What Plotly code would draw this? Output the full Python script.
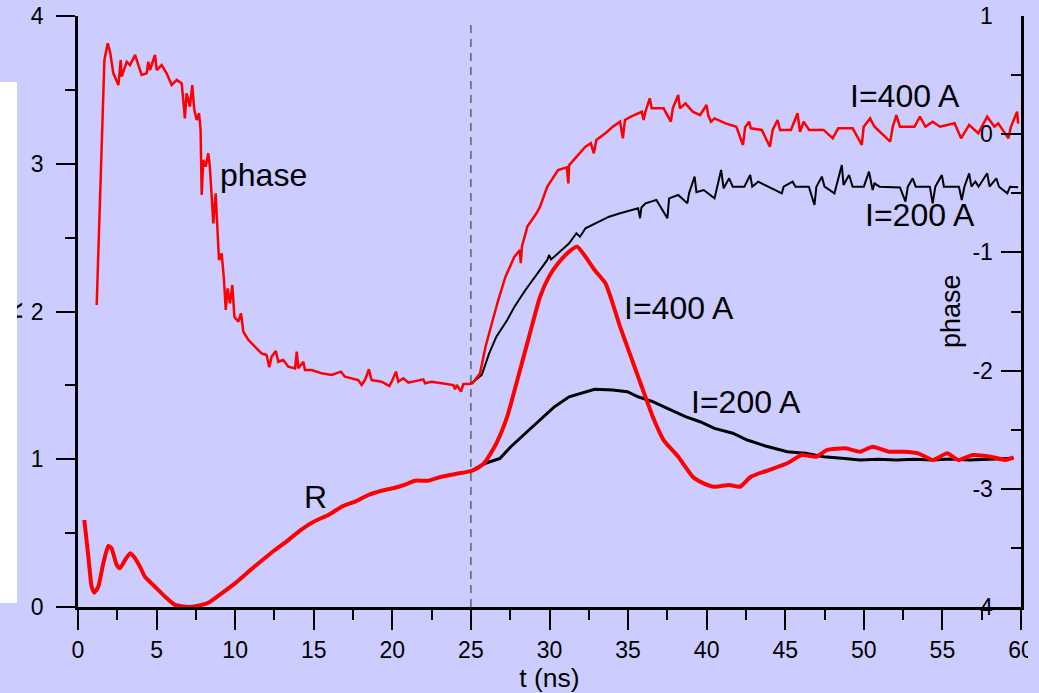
import plotly.graph_objects as go

# ---------------- data ----------------
# R, common early part + I=400 A (red)
t_R400 = [0.40, 0.66, 0.87, 1.04, 1.29, 1.61, 1.93, 2.14, 2.46, 2.67, 2.99, 3.31, 3.63, 3.94,
          4.26, 4.90, 5.54, 6.17, 7.02, 7.66, 8.29, 9.14, 9.99, 10.84, 11.68, 12.53, 13.38,
          14.23, 15.08, 15.93, 16.78, 17.62, 18.47, 19.32, 20.17, 21.02, 21.44, 22.29, 23.14,
          23.99, 25.00, 25.50, 25.93, 26.62, 27.31, 28.01, 28.70, 29.40, 29.97, 30.55, 31.25, 31.76,
          32.29, 32.87, 33.56, 34.02, 34.49, 35.18, 35.87, 36.57, 37.26, 38.19, 39.11, 39.81,
          40.50, 41.43, 42.12, 42.81, 43.97, 45.13, 46.05, 46.98, 47.67, 48.83, 49.75, 50.56,
          51.61, 52.53, 53.46, 54.38, 55.31, 56.00, 56.93, 58.08, 59.01, 59.52]
R_400 = [0.589, 0.340, 0.137, 0.097, 0.137, 0.296, 0.413, 0.397, 0.284, 0.262, 0.318, 0.363,
         0.330, 0.273, 0.205, 0.137, 0.070, 0.014, 0.000, 0.009, 0.029, 0.093, 0.160, 0.239,
         0.313, 0.386, 0.453, 0.526, 0.582, 0.623, 0.679, 0.713, 0.758, 0.787, 0.807, 0.837,
         0.855, 0.855, 0.882, 0.900, 0.920, 0.945, 0.985, 1.108, 1.288, 1.559, 1.830, 2.100, 2.236,
         2.326, 2.405, 2.439, 2.371, 2.281, 2.191, 2.055, 1.897, 1.694, 1.491, 1.288, 1.130,
         1.017, 0.882, 0.837, 0.814, 0.826, 0.814, 0.882, 0.927, 0.973, 1.029, 1.017, 1.063,
         1.074, 1.051, 1.085, 1.051, 1.051, 1.040, 0.995, 1.040, 0.995, 1.029, 1.017, 0.995,
         1.013]

# R, I=200 A (black)
t_R200 = [25.00, 25.93, 26.85, 27.54, 28.47, 29.40, 30.32, 31.25, 32.17, 32.87, 34.02, 34.95,
          35.64, 36.57, 37.50, 38.65, 39.58, 40.50, 41.66, 42.58, 43.74, 45.13, 46.29, 47.44,
          48.60, 49.75, 50.91, 52.07, 53.20, 54.38, 55.50, 56.70, 58.00, 59.52]
R_200 = [0.920, 0.973, 1.006, 1.085, 1.176, 1.266, 1.356, 1.423, 1.453, 1.473, 1.469, 1.457,
         1.423, 1.390, 1.345, 1.288, 1.254, 1.209, 1.176, 1.130, 1.090, 1.051, 1.040, 1.017,
         1.006, 0.995, 1.000, 0.995, 1.000, 0.995, 1.002, 0.995, 1.000, 1.006]

# phase, common early part + I=400 A (red)
t_P400 = [1.19, 1.51, 1.68, 1.89, 2.04, 2.25, 2.57, 2.72, 2.78, 3.10, 3.31, 3.63, 4.05, 4.37,
          4.47, 4.58, 4.90, 5.01, 5.32, 5.64, 5.96, 6.28, 6.60, 6.80, 6.91, 7.12, 7.27, 7.40,
          7.55, 7.70, 7.80, 7.87, 7.97, 8.12, 8.29, 8.39, 8.61, 8.76, 8.89, 8.97, 9.14, 9.29,
          9.40, 9.52, 9.67, 9.82, 9.95, 10.20, 10.37, 10.52, 10.84, 11.26, 11.68, 12.00, 12.17,
          12.32, 12.59, 12.74, 13.06, 13.38, 13.81, 13.92, 14.02, 14.34, 14.44, 14.87, 15.50,
          16.14, 16.73, 16.98, 17.83, 18.05, 18.26, 18.51, 18.68, 19.32, 19.81, 19.96, 20.23,
          20.38, 20.70, 21.02, 21.97, 22.08, 22.50, 23.14, 23.88, 23.99, 24.10, 24.37, 24.52,
          24.93,
          25.11, 25.58, 25.93, 26.39, 26.74, 27.20, 27.77, 28.12, 28.17, 28.25, 28.59, 29.17,
          29.40, 29.86, 30.55, 31.10, 31.20, 31.25, 31.71, 32.29, 32.63, 32.82, 32.98, 33.56,
          34.02, 34.49, 34.67, 34.80, 35.18, 35.87, 35.99, 36.10, 36.38, 36.50, 37.26, 37.72,
          37.85, 38.19, 38.30, 38.65, 39.11, 39.58, 39.99, 40.10, 40.27, 40.50, 41.20, 41.89,
          42.31, 42.45, 42.70, 42.81, 43.51, 44.02, 44.20, 44.51, 44.67, 45.36, 45.78, 45.94,
          46.17, 46.52, 47.44, 48.02, 48.37, 49.29, 49.87, 49.99, 50.40, 50.68, 51.68, 51.84,
          52.07, 52.30, 53.22, 53.57, 53.92, 54.38, 54.85, 55.77, 56.19, 56.70, 57.28, 57.85,
          58.31, 58.55, 59.20, 59.36, 59.75, 59.82]
P_400 = [-1.445, -0.190, 0.628, 0.769, 0.698, 0.515, 0.416, 0.628, 0.487, 0.613, 0.585, 0.670,
         0.501, 0.515, 0.613, 0.543, 0.670, 0.543, 0.585, 0.515, 0.416, 0.459, 0.430, 0.134,
         0.346, 0.233, 0.416, 0.205, 0.120, 0.177, 0.036, -0.514, -0.218, -0.275, -0.162,
         -0.275, -0.754, -0.500, -0.810, -1.064, -1.008, -1.233, -1.487, -1.304, -1.431,
         -1.276, -1.544, -1.586, -1.515, -1.671, -1.741, -1.798, -1.854, -1.868, -1.972,
         -1.882, -1.834, -1.925, -1.910, -1.967, -1.981, -1.840, -1.981, -1.925, -1.995,
         -1.995, -2.023, -2.037, -2.009, -2.052, -2.080, -2.122, -2.080, -1.989, -2.080,
         -2.094, -2.130, -2.094, -2.009, -2.094, -2.065, -2.102, -2.074, -2.107, -2.094,
         -2.107, -2.122, -2.158, -2.122, -2.178, -2.113, -2.113,
         -2.107, -2.023, -1.798, -1.572, -1.403, -1.206, -1.036, -0.980, -1.092, -0.950,
         -0.782, -0.669, -0.613, -0.444, -0.303, -0.280, -0.416, -0.261, -0.190, -0.106,
         -0.077, -0.162, -0.049, 0.008, 0.063, 0.106, -0.035, 0.120, 0.148, 0.190, 0.120,
         0.190, 0.304, 0.220, 0.219, 0.106, 0.220, 0.332, 0.219, 0.261, 0.190, 0.162, 0.247,
         0.160, 0.106, 0.134, 0.092, 0.063, -0.091, 0.060, 0.106, 0.050, 0.036, -0.106, 0.036,
         0.120, 0.036, 0.036, 0.177, 0.021, 0.106, 0.036, 0.036, -0.035, 0.050, 0.050, -0.091,
         0.063, 0.134, 0.063, -0.063, 0.063, 0.162, 0.063, 0.063, 0.148, 0.063, 0.106, 0.063,
         0.092, -0.035, 0.078, 0.008, 0.148, 0.063, 0.092, -0.035, 0.063, 0.190, 0.090]

# phase, I=200 A (black)
t_P200 = [25.00, 25.69, 26.16, 26.62, 27.31, 27.77, 28.47, 28.93, 29.86, 29.97, 30.10, 30.55,
          31.25, 31.71, 31.94, 32.29, 33.10, 33.79, 34.49, 35.18, 35.64, 35.76, 35.85, 36.11,
          36.80, 37.50, 37.61, 38.19, 38.77, 38.88, 39.23, 39.35, 39.81, 40.50, 40.62, 40.92,
          41.08, 41.43, 41.66, 42.40, 42.77, 42.90, 43.28, 43.97, 44.78, 44.90, 45.47, 45.65,
          46.50, 46.86, 46.98, 47.33, 47.50, 48.13, 48.25, 48.60, 48.71, 49.06, 49.29, 50.00,
          50.33, 50.56, 50.68, 51.00, 52.30, 52.65, 52.80, 53.11, 53.30, 54.20, 54.38, 54.55,
          54.96, 55.10, 56.05, 56.23, 56.40, 56.70, 56.85, 57.10, 57.30, 57.85, 58.00, 58.43,
          58.60, 59.13, 59.30, 59.82]
P_200 = [-2.110, -2.037, -1.854, -1.713, -1.572, -1.459, -1.318, -1.234, -1.064, -1.022,
         -1.060, -1.008, -0.923, -0.838, -0.867, -0.796, -0.740, -0.698, -0.669, -0.641,
         -0.627, -0.711, -0.620, -0.585, -0.557, -0.711, -0.543, -0.514, -0.585, -0.500,
         -0.359, -0.490, -0.472, -0.543, -0.472, -0.303, -0.458, -0.373, -0.444, -0.444,
         -0.345, -0.444, -0.402, -0.444, -0.500, -0.444, -0.402, -0.444, -0.444, -0.599,
         -0.444, -0.359, -0.444, -0.500, -0.444, -0.261, -0.430, -0.345, -0.444, -0.444,
         -0.317, -0.472, -0.416, -0.444, -0.450, -0.571, -0.444, -0.373, -0.444, -0.444,
         -0.585, -0.444, -0.345, -0.444, -0.444, -0.557, -0.444, -0.331, -0.444, -0.400,
         -0.444, -0.331, -0.444, -0.373, -0.444, -0.500, -0.444, -0.449]

x_ticks = [0, 5, 10, 15, 20, 25, 30, 35, 40, 45, 50, 55, 60]
R_ticks = [0, 1, 2, 3, 4]
P_ticks = [-4, -3, -2, -1, 0, 1]
t_switch = 25

# ---------------- layout helpers ----------------
W, H = 1039, 693
L, R, T, B = 78, 18, 16, 86
PW, PH = W - L - R, H - T - B
def px(x):
    return (x - L) / PW
def py(y):
    return (H - B - y) / PH

BG = "#CCCCFF"
FONT = "Liberation Sans, Arial, sans-serif"

fig = go.Figure()
fig.add_trace(go.Scatter(x=t_R200, y=R_200, mode="lines", yaxis="y",
                         line=dict(color="black", width=3)))
fig.add_trace(go.Scatter(x=t_R400, y=R_400, mode="lines", yaxis="y",
                         line=dict(color="#FF0000", width=4, shape="spline", smoothing=0.5)))
fig.add_trace(go.Scatter(x=t_P200, y=P_200, mode="lines", yaxis="y2",
                         line=dict(color="black", width=2)))
fig.add_trace(go.Scatter(x=t_P400, y=P_400, mode="lines", yaxis="y2",
                         line=dict(color="#FF0000", width=2.5)))

axis_common = dict(showgrid=False, zeroline=False, showline=True, linecolor="black",
                   linewidth=2.5, tickcolor="black", tickwidth=2, ticklabeloverflow="allow",
                   tickfont=dict(family=FONT, size=23, color="black"))

fig.update_layout(
    width=W, height=H, margin=dict(l=L, r=R, t=T, b=B, autoexpand=False),
    paper_bgcolor=BG, plot_bgcolor=BG, showlegend=False,
    font=dict(family=FONT, color="black"),
    xaxis=dict(range=[0, 60], tickvals=x_ticks, ticktext=[str(v) for v in x_ticks],
               ticks="outside", ticklen=20, ticklabelstandoff=1,
               minor=dict(dtick=2.5, tick0=0, ticks="outside", ticklen=10, tickwidth=2,
                          tickcolor="black", showgrid=False),
               title=dict(text="t (ns)", font=dict(family=FONT, size=26.5), standoff=0),
               **axis_common),
    yaxis=dict(range=[0, 4], tickvals=R_ticks, ticktext=[str(v) for v in R_ticks],
               ticks="outside", ticklen=19, ticklabelstandoff=8,
               minor=dict(dtick=0.5, tick0=0, ticks="outside", ticklen=10, tickwidth=2,
                          tickcolor="black", showgrid=False),
               **axis_common),
    yaxis2=dict(range=[-4, 1], tickvals=P_ticks, ticktext=[str(v) for v in P_ticks],
                overlaying="y", side="right", anchor="x",
                ticks="inside", ticklen=20, ticklabelposition="inside", ticklabelstandoff=10,
                minor=dict(dtick=0.5, tick0=0, ticks="inside", ticklen=10, tickwidth=2,
                           tickcolor="black", showgrid=False),
                **axis_common),
)

fig.add_shape(type="line", xref="x", yref="paper", x0=t_switch, x1=t_switch, y0=0, y1=0.99,
              line=dict(color="#444444", width=1.2, dash="8px,6px"), layer="below")
# right edge cover (clips the "60" label like the reference)
fig.add_shape(type="rect", xref="paper", yref="paper", x0=px(1028), x1=px(1045),
              y0=py(690), y1=py(630), fillcolor=BG, line=dict(width=0), layer="above")

ann_font = dict(family=FONT, size=32, color="black")
anns = [
    dict(text="R", x=px(13), y=py(311), textangle=-90, font=dict(family=FONT, size=26),
         xanchor="center", yanchor="middle"),
    dict(text=" ", x=px(0), y=py(82), xanchor="left", yanchor="top", width=17, height=521,
         bgcolor="white", borderpad=0, borderwidth=0),
    dict(text="phase", x=px(218), y=py(175), xanchor="left", yanchor="middle", font=ann_font),
    dict(text="I=400 A", x=px(848), y=py(96), xanchor="left", yanchor="middle", font=ann_font),
    dict(text="I=200 A", x=px(863), y=py(215), xanchor="left", yanchor="middle", font=ann_font),
    dict(text="I=400 A", x=px(622), y=py(308), xanchor="left", yanchor="middle", font=ann_font),
    dict(text="I=200 A", x=px(689), y=py(402), xanchor="left", yanchor="middle", font=ann_font),
    dict(text="R", x=px(302), y=py(497), xanchor="left", yanchor="middle", font=ann_font),
    dict(text="phase", x=px(951), y=py(311), textangle=-90, font=dict(family=FONT, size=27),
         xanchor="center", yanchor="middle"),
]
for a in anns:
    fig.add_annotation(xref="paper", yref="paper", showarrow=False, **a)

fig.write_html("out.html")
